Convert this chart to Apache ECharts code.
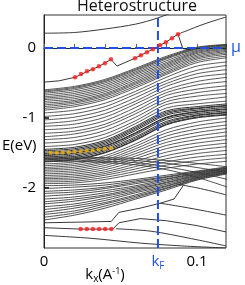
<!DOCTYPE html>
<html><head><meta charset="utf-8">
<script src="https://cdn.jsdelivr.net/npm/echarts@6/dist/echarts.min.js"></script>
<style>html,body{margin:0;padding:0;background:#fff}#c{width:245px;height:285px}</style>
</head><body><div id="c"></div>
<script>
// k grid (1/Å) for the band families
const kGrid = [0, 0.02, 0.04, 0.06, 0.08, 0.10, 0.12];

// upper dense manifold (E in eV at kGrid)
const bandsUpper = [
  [-0.60,-0.55,-0.45,-0.29,-0.12, 0.01, 0.05],
  [-0.615,-0.565,-0.465,-0.305,-0.135, 0.0, 0.045],
  [-0.63,-0.58,-0.48,-0.32,-0.145,-0.01, 0.04],
  [-0.65,-0.60,-0.50,-0.34,-0.16,-0.02, 0.03],
  [-0.675,-0.625,-0.525,-0.36,-0.185,-0.035,0.02],
  [-0.70,-0.65,-0.55,-0.38,-0.21,-0.05, 0.01],
  [-0.72,-0.675,-0.575,-0.405,-0.23,-0.065,-0.005],
  [-0.74,-0.70,-0.60,-0.43,-0.25,-0.08,-0.02],
  [-0.765,-0.725,-0.625,-0.455,-0.27,-0.10,-0.035],
  [-0.79,-0.75,-0.65,-0.48,-0.29,-0.12,-0.05],
  [-0.815,-0.77,-0.67,-0.50,-0.315,-0.14,-0.07],
  [-0.84,-0.79,-0.69,-0.52,-0.34,-0.16,-0.09],
  [-0.865,-0.815,-0.715,-0.545,-0.36,-0.185,-0.115],
  [-0.89,-0.84,-0.74,-0.57,-0.38,-0.21,-0.14],
  [-0.93,-0.89,-0.79,-0.62,-0.42,-0.26,-0.20],
  [-0.98,-0.94,-0.84,-0.66,-0.47,-0.32,-0.25],
  [-1.03,-0.99,-0.89,-0.71,-0.51,-0.37,-0.31],
  [-1.08,-1.04,-0.94,-0.76,-0.55,-0.42,-0.37],
  [-1.12,-1.09,-0.99,-0.80,-0.60,-0.48,-0.42],
  [-1.17,-1.14,-1.04,-0.85,-0.64,-0.53,-0.48],
  [-1.22,-1.19,-1.09,-0.90,-0.68,-0.59,-0.54],
  [-1.27,-1.23,-1.13,-0.94,-0.73,-0.64,-0.59],
  [-1.31,-1.28,-1.18,-0.99,-0.77,-0.69,-0.65],
  [-1.36,-1.33,-1.23,-1.04,-0.81,-0.75,-0.70],
  [-1.41,-1.38,-1.28,-1.08,-0.86,-0.80,-0.76]
];
// dark band (yellow-dot band)
const bandsDark = [
  [-1.45,-1.42,-1.32,-1.12,-0.90,-0.84,-0.80],
  [-1.47,-1.44,-1.34,-1.14,-0.92,-0.86,-0.82],
  [-1.49,-1.46,-1.36,-1.16,-0.94,-0.87,-0.83],
  [-1.51,-1.48,-1.38,-1.18,-0.96,-0.89,-0.85],
  [-1.53,-1.50,-1.40,-1.21,-0.99,-0.91,-0.87],
  [-1.54,-1.51,-1.41,-1.22,-1.00,-0.92,-0.88],
  [-1.56,-1.53,-1.43,-1.24,-1.02,-0.94,-0.90],
  [-1.58,-1.55,-1.45,-1.27,-1.05,-0.96,-0.92],
  [-1.60,-1.57,-1.47,-1.29,-1.07,-0.97,-0.93],
  [-1.62,-1.59,-1.49,-1.31,-1.09,-0.99,-0.95],
  [-1.63,-1.60,-1.50,-1.32,-1.10,-1.00,-0.96]
];
// middle family below the dark band
const bandsMid = [
  [-1.66,-1.63,-1.54,-1.37,-1.17,-1.06,-1.00],
  [-1.685,-1.655,-1.57,-1.405,-1.215,-1.11,-1.05],
  [-1.71,-1.68,-1.60,-1.44,-1.26,-1.16,-1.10],
  [-1.73,-1.705,-1.625,-1.475,-1.305,-1.21,-1.15],
  [-1.75,-1.73,-1.65,-1.51,-1.35,-1.26,-1.20],
  [-1.775,-1.755,-1.68,-1.545,-1.395,-1.31,-1.255],
  [-1.80,-1.78,-1.71,-1.58,-1.44,-1.36,-1.31],
  [-1.825,-1.805,-1.74,-1.62,-1.49,-1.41,-1.36],
  [-1.85,-1.83,-1.77,-1.66,-1.54,-1.46,-1.41],
  [-1.87,-1.855,-1.795,-1.695,-1.585,-1.51,-1.465],
  [-1.89,-1.88,-1.82,-1.73,-1.63,-1.56,-1.52],
  [-1.915,-1.905,-1.85,-1.765,-1.675,-1.61,-1.57],
  [-1.94,-1.93,-1.88,-1.80,-1.72,-1.66,-1.62]
];
// lower dense manifold converging to the right
const bandsLower = [
  [-1.97,-1.96,-1.93,-1.88,-1.82,-1.76,-1.70],
  [-2.01,-1.99,-1.96,-1.90,-1.84,-1.77,-1.71],
  [-2.05,-2.03,-1.99,-1.92,-1.85,-1.78,-1.72],
  [-2.08,-2.06,-2.01,-1.94,-1.87,-1.79,-1.72],
  [-2.12,-2.09,-2.04,-1.97,-1.88,-1.80,-1.73],
  [-2.16,-2.13,-2.07,-1.99,-1.90,-1.81,-1.74],
  [-2.20,-2.16,-2.10,-2.01,-1.92,-1.82,-1.75],
  [-2.23,-2.19,-2.12,-2.03,-1.93,-1.83,-1.75],
  [-2.27,-2.23,-2.15,-2.05,-1.95,-1.84,-1.76],
  [-2.31,-2.26,-2.18,-2.07,-1.97,-1.85,-1.77],
  [-2.35,-2.29,-2.21,-2.10,-1.98,-1.86,-1.78],
  [-2.38,-2.33,-2.23,-2.12,-2.00,-1.87,-1.78],
  [-2.42,-2.36,-2.26,-2.14,-2.01,-1.88,-1.79],
  [-2.46,-2.39,-2.29,-2.16,-2.03,-1.89,-1.80]
];
// descending (hole-like) grey band
const bandsDescending = [
  [-1.56,-1.56,-1.57,-1.58,-1.61,-1.65,-1.70],
  [-1.58,-1.58,-1.59,-1.61,-1.65,-1.71,-1.78],
  [-1.60,-1.60,-1.62,-1.64,-1.70,-1.78,-1.88],
  [-1.62,-1.62,-1.64,-1.67,-1.74,-1.85,-1.99]
];
// isolated lines, [k, E]
const lineTop = [[0,0.21],[0.02,0.22],[0.04,0.27],[0.06,0.34],[0.074,0.425],[0.089,0.55],[0.102,0.68]];
const lineRedTrack = [[0,-0.49],[0.01,-0.47],[0.0203,-0.42],[0.0281,-0.34],[0.0359,-0.265],[0.0438,-0.165],[0.0477,-0.26],[0.053,-0.21],[0.0595,-0.147],[0.0673,-0.061],[0.0745,0.02],[0.0797,0.081],[0.0876,0.196],[0.0908,-0.01],[0.096,-0.03]];
const lineUpperRight = [[0.0876,0.196],[0.095,0.26],[0.102,0.32],[0.11,0.38],[0.119,0.44]];
const lineP1 = [[0,-2.50],[0.024,-2.49],[0.044,-2.48],[0.049,-2.35],[0.063,-2.29],[0.076,-2.22],[0.085,-2.16],[0.091,-1.97]];
const lineP2 = [[0,-2.57],[0.024,-2.59],[0.045,-2.59],[0.049,-2.50],[0.063,-2.44],[0.08,-2.47],[0.10,-2.54],[0.119,-2.63]];
const lineQa = [[0.076,-2.22],[0.09,-2.27],[0.105,-2.33],[0.119,-2.39]];
const lineQ1 = [[0.088,-1.95],[0.10,-2.00],[0.11,-2.05],[0.119,-2.10]];
const lineQ4 = [[0,-2.68],[0.03,-2.72],[0.063,-2.79],[0.09,-2.83],[0.119,-2.86]];
const lineQ5 = [[0.047,-2.585],[0.07,-2.62],[0.095,-2.72],[0.119,-2.83]];

// markers
const redDotsUpperA = [[0.0203,-0.419],[0.0242,-0.375],[0.0281,-0.333],[0.0320,-0.304],[0.0359,-0.261],[0.0399,-0.219],[0.0438,-0.161]];
const redDotsUpperB = [[0.0595,-0.147],[0.0634,-0.104],[0.0673,-0.061],[0.0712,-0.019],[0.0758,0.039],[0.0797,0.081],[0.0837,0.139],[0.0876,0.196]];
const redDotsLower = [[0.024,-2.59],[0.028,-2.59],[0.032,-2.59],[0.036,-2.59],[0.040,-2.59],[0.044,-2.59]];
const yellowDots = [[0.0044,-1.50],[0.0083,-1.50],[0.0122,-1.494],[0.0161,-1.49],[0.0200,-1.486],[0.0240,-1.48],[0.0279,-1.471],[0.0318,-1.466],[0.0357,-1.451],[0.0397,-1.443],[0.0438,-1.433]];

const fermiK = 0.0745;
const chemPot = 0;
const yTickValues = [-2, -1, 0];
const xLabelValues = [0, 0.1];
const xRange = [0, 0.119];
const yRange = [-2.86, 0.47];

const bandColor = '#2e2e2e';
const blue = '#1f50e6';

function family(rows, w, c) {
  return rows.map(r => ({type:'line', data: kGrid.map((k, j) => [k, r[j]]), smooth: 0.3, symbol:'none',
    lineStyle:{width:w, color:c}, silent:true, z:2}));
}
function single(d, w, smooth) {
  return {type:'line', data:d, smooth: smooth||0, symbol:'none', lineStyle:{width:w, color:'#222'}, silent:true, z:2};
}
function dots(d, color, size) {
  return {type:'scatter', data:d, symbolSize:size, itemStyle:{color:color}, z:5, silent:true};
}

const series = [].concat(
  family(bandsUpper, 0.8, bandColor),
  family(bandsDark, 0.9, '#1a1a1a'),
  family(bandsMid, 0.8, bandColor),
  family(bandsLower, 0.85, bandColor),
  family(bandsDescending, 0.9, '#3a3a3a'),
  [single(lineTop, 0.9, 0.3), single(lineRedTrack, 0.9), single(lineUpperRight, 0.9, 0.3),
   single(lineP1, 0.9), single(lineP2, 0.9), single(lineQa, 0.9, 0.3), single(lineQ1, 0.9, 0.3),
   single(lineQ4, 0.9, 0.3), single(lineQ5, 0.9, 0.3)],
  [{type:'line', data:[[xRange[0], chemPot],[xRange[1], chemPot]], symbol:'none', z:4, silent:true,
     lineStyle:{color:blue, width:2, type:[9,4]}},
   {type:'line', data:[[fermiK, yRange[0]],[fermiK, yRange[1]]], symbol:'none', z:4, silent:true,
     lineStyle:{color:blue, width:2, type:[9,4]}}],
  [dots(redDotsUpperA, '#ff1a1a', 4.5), dots(redDotsUpperB, '#ff1a1a', 4.5), dots(redDotsLower, '#ff1a1a', 4.5),
   dots(yellowDots, '#f5b400', 4)]
);

const chart = echarts.init(document.getElementById('c'));
const font = '"Open Sans", sans-serif';
chart.setOption({
  animation: false,
  grid: {left:44, right:19, top:15, bottom:37, show:true, borderColor:'#333', borderWidth:1},
  xAxis: {type:'value', min:xRange[0], max:xRange[1], interval:0.02,
    axisLine:{show:true, lineStyle:{color:'#222', width:1}},
    axisTick:{inside:true, length:4, lineStyle:{color:'#666'}},
    splitLine:{show:false},
    axisLabel:{customValues:xLabelValues, margin:6, fontSize:15, fontFamily:font, color:'#000',
      formatter: v => (v === 0 ? '0' : String(v))}},
  yAxis: {type:'value', min:yRange[0], max:yRange[1],
    axisLine:{show:true, lineStyle:{color:'#222', width:1}},
    axisTick:{inside:true, length:5, customValues:yTickValues, lineStyle:{color:'#000', width:1.5}},
    splitLine:{show:false},
    axisLabel:{customValues:yTickValues, margin:8, fontSize:15, fontFamily:font, color:'#000'}},
  series: series
});

const pk = chart.convertToPixel({gridIndex:0}, [fermiK, yRange[0]]);
const pmu = chart.convertToPixel({gridIndex:0}, [xRange[1], chemPot]);
chart.setOption({graphic: [
  {type:'text', x:137, y:6.5, style:{text:'Heterostructure', font:'16px ' + font, fill:'#111', align:'center', verticalAlign:'middle'}, z:10},
  {type:'text', x:2, y:146, style:{text:'E(eV)', font:'15px ' + font, fill:'#000', verticalAlign:'middle'}},
  {type:'text', x:pk[0], y:262, style:{text:'{k|k}{s|F}', align:'center', verticalAlign:'middle',
    rich:{k:{fontSize:15, fontFamily:font, fill:blue}, s:{fontSize:10, fontFamily:font, fill:blue, padding:[8,0,0,0]}}}},
  {type:'text', x:pmu[0] + 5, y:pmu[1], style:{text:'μ', font:'16px ' + font, fill:blue, verticalAlign:'middle'}},
  {type:'text', x:105, y:275, style:{text:'{a|k}{b|x}{a|(A}{c|-1}{a|)}', align:'center', verticalAlign:'middle',
    rich:{a:{fontSize:15, fontFamily:font, fill:'#000'}, b:{fontSize:10, fontFamily:font, fill:'#000', padding:[8,0,0,0]},
          c:{fontSize:9, fontFamily:font, fill:'#000', padding:[0,0,8,0]}}}}
]});
</script></body></html>
